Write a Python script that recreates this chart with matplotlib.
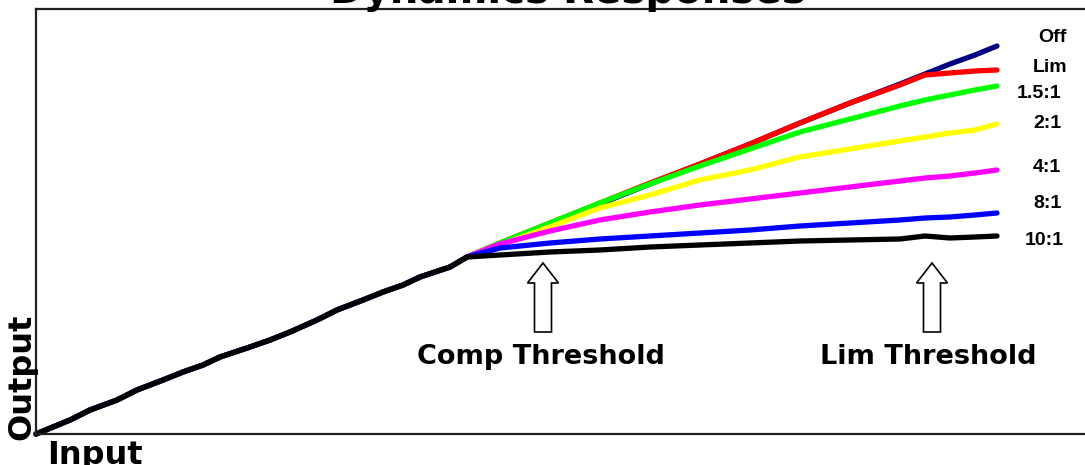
"""
Dynamics responses - compressor / limiter transfer curves
"""

import matplotlib
matplotlib.use("Agg")
import matplotlib.pyplot as plt
import matplotlib.patches as mpatches

W, H = 1085, 465

# shared linear part below the compressor threshold
lin_in = [0, 34, 54, 81, 101, 127, 147, 167, 184, 214, 234, 254, 281,
          301, 327, 347, 367, 384, 414, 431]
lin_out = [0, 14, 24, 34, 44, 54, 62, 69, 77, 87, 94, 102, 114, 124,
           134, 142, 149, 157, 167, 177]

# inputs above the threshold
knee_in = [464, 514, 564, 614, 664, 714, 764, 814, 864, 889, 914, 939, 961]

labels = ["Off", "Lim", "1.5:1", "2:1", "4:1", "8:1", "10:1"]
colors = ["#000080", "#ff0000", "#00ff00", "#ffff00", "#ff00ff", "#0000ff", "#000000"]

off_out = [190, 210, 230, 250, 270, 290, 311, 331, 350, 360, 370, 379, 388]
lim_out = [191, 211, 231, 251, 270, 290, 311, 331, 349, 359, 361, 363, 364]
r15_out = [191, 211, 231, 250, 268, 285, 302, 315, 328, 334, 339, 344, 348]
r2_out = [189, 207, 226, 239, 254, 264, 277, 285, 293, 297, 301, 304, 310]
r4_out = [190, 203, 214, 222, 229, 235, 241, 247, 253, 256, 258, 261, 264]
r8_out = [186, 191, 195, 198, 201, 204, 208, 211, 214, 216, 217, 219, 221]
r10_out = [179, 182, 184, 187, 189, 191, 193, 194, 195, 198, 196, 197, 198]

curves = [off_out, lim_out, r15_out, r2_out, r4_out, r8_out, r10_out]

# label positions (pixels) next to the line ends
label_px = [(1038, 37), (1033, 67), (1017, 93), (1033, 123),
            (1033, 167), (1033, 203), (1025, 240)]


def fx(x):
    return x / W


def fy(y):
    return 1 - y / H


fig = plt.figure(figsize=(W / 100, H / 100), dpi=100)
x0, y0, y1 = 36, 434, 9
ax = fig.add_axes([fx(x0), fy(y0), 1064 / W, (y0 - y1) / H])
ax.set_xlim(0, 1064)
ax.set_ylim(0, y0 - y1)
ax.set_xticks([])
ax.set_yticks([])
for side in ["left", "top", "bottom"]:
    ax.spines[side].set_linewidth(1.6)
    ax.spines[side].set_color("#202020")
ax.spines["right"].set_visible(False)

for out, col in zip(curves, colors):
    ax.plot(lin_in + knee_in, lin_out + out, color=col, lw=3.8,
            solid_capstyle="round", solid_joinstyle="round", clip_on=False)

# hollow threshold arrows (pixel coords converted to data)
for cx in (543, 932):
    tip, base, bottom = 263, 283, 332
    hw, sw = 15.5, 8.5
    pts = [(cx - sw, bottom), (cx - sw, base), (cx - hw, base), (cx, tip),
           (cx + hw, base), (cx + sw, base), (cx + sw, bottom)]
    pts = [(px - x0, y0 - py) for px, py in pts]
    ax.add_patch(mpatches.Polygon(pts, closed=True, fc="white", ec="black", lw=1.2))

bold = dict(fontweight="bold", color="black")
fig.text(fx(541), fy(357), "Comp Threshold", ha="center", va="center",
         fontsize=19.5, family="DejaVu Sans", **bold)
fig.text(fx(928), fy(357), "Lim Threshold", ha="center", va="center",
         fontsize=19.5, family="DejaVu Sans", **bold)

for lab, (px, py) in zip(labels, label_px):
    fig.text(fx(px), fy(py), lab, ha="left", va="center", fontsize=14,
             family="Liberation Sans", **bold)

fig.text(fx(568), fy(3), "Dynamics Responses", ha="center", va="baseline",
         fontsize=29, family="DejaVu Sans", **bold)
fig.text(fx(47), fy(440), "Input", ha="left", va="top", fontsize=23,
         family="DejaVu Sans", **bold)
fig.text(fx(22), fy(377), "Output", ha="center", va="center", rotation=90,
         fontsize=23, family="DejaVu Sans", **bold)

fig.savefig("out.png", dpi=100)
